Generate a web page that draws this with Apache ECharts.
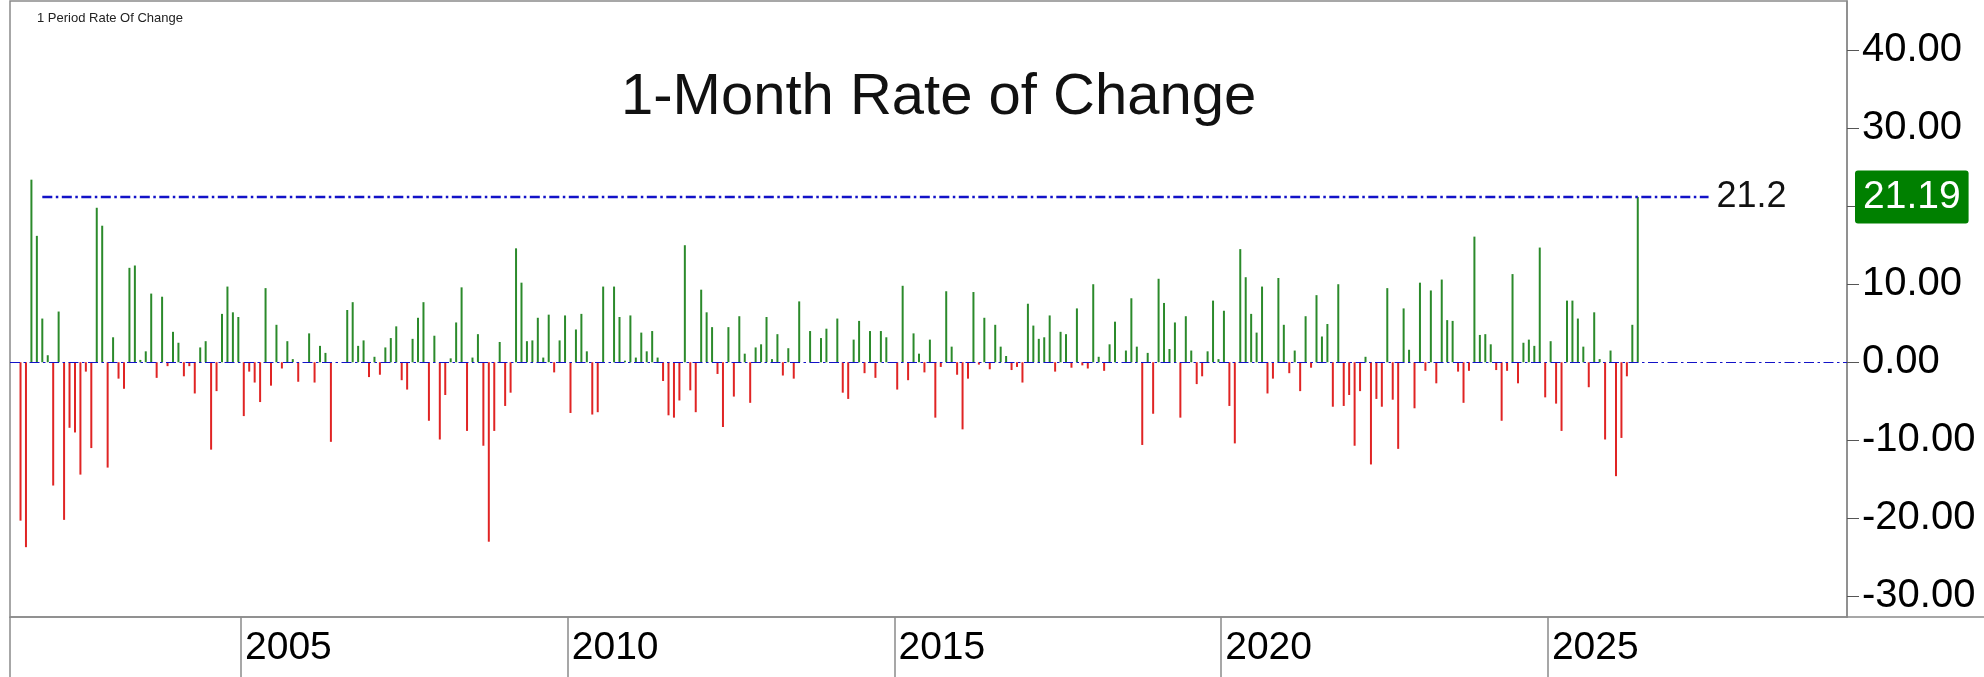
<!DOCTYPE html>
<html>
<head>
<meta charset="utf-8">
<title>1-Month Rate of Change</title>
<script src="https://cdn.jsdelivr.net/npm/echarts@6/dist/echarts.min.js"></script>
<style>
  html, body { margin: 0; padding: 0; background: #fff; }
  #chart { width: 1984px; height: 677px; }
</style>
</head>
<body>
<div id="chart"></div>
<script>
// monthly 1 period rate of change, first bar Aug 2001, last bar May 2026
var firstYear = 2001;
var firstMonth = 8;
var roc = [
  -20.3, -23.7, 23.4, 16.2, 5.6, 0.9, -15.8, 6.5, -20.2, -8.4,
  -9.0, -14.4, -1.2, -11.0, 19.8, 17.5, -13.5, 3.2, -2.1, -3.4,
  12.1, 12.4, 0.3, 1.4, 8.8, -2.0, 8.4, -0.5, 3.9, 2.5,
  -1.8, -0.5, -4.0, 1.9, 2.7, -11.2, -3.7, 6.2, 9.7, 6.4,
  5.8, -6.9, -1.2, -2.6, -5.1, 9.5, -3.0, 4.8, -0.8, 2.7,
  0.4, -2.5, 0, 3.7, -2.6, 2.1, 1.2, -10.2, 0, 0,
  6.7, 7.7, 2.1, 2.8, -1.9, 0.7, -1.6, 1.9, 3.1, 4.6,
  -2.3, -3.5, 3.0, 5.7, 7.7, -7.5, 3.4, -9.9, -4.2, 0.5,
  5.1, 9.6, -8.8, 0.6, 3.6, -10.7, -23.0, -8.8, 2.6, -5.6,
  -3.9, 14.6, 10.2, 2.7, 2.8, 5.7, 0.6, 6.1, -1.3, 2.8,
  6.0, -6.5, 4.2, 6.2, 1.4, -6.7, -6.4, 9.7, 0, 9.7,
  5.8, 0.2, 6.0, 0.6, 3.8, 1.4, 4.0, 0.6, -2.4, -6.8,
  -7.1, -4.9, 15.0, -3.6, -6.4, 9.3, 6.4, 4.5, -1.5, -8.3,
  4.5, -4.4, 5.9, 1.1, -5.2, 1.9, 2.3, 5.8, 0.4, 3.6,
  -1.7, 1.8, -2.1, 7.8, 0, 4.0, 0, 3.1, 4.3, 0,
  5.6, -3.9, -4.7, 2.9, 5.3, -1.4, 4.0, -2.0, 4.0, 3.2,
  0, -3.5, 9.8, -2.3, 3.7, 1.1, -1.3, 2.9, -7.1, -0.6,
  9.1, 2.0, -1.6, -8.6, -2.1, 9.0, -0.3, 5.7, -0.9, 4.8,
  2.0, 0.8, -1.0, -0.6, -2.6, 7.5, 4.7, 3.0, 3.2, 6.0,
  -1.2, 3.9, 3.6, -0.7, 6.9, -0.4, -0.8, 10.0, 0.7, -1.1,
  2.3, 5.2, 0, 1.5, 8.2, 2.0, -10.6, 1.2, -6.6, 10.7,
  7.6, 1.7, 5.1, -7.1, 5.9, 1.5, -2.8, -1.8, 1.4, 7.9,
  0.4, 6.6, -5.6, -10.4, 14.5, 10.9, 6.2, 3.8, 9.7, -4.0,
  -2.1, 10.8, 4.8, -1.4, 1.5, -3.7, 5.9, -0.7, 8.6, 3.3,
  4.9, -5.7, 10.0, -5.6, -4.2, -10.7, -3.7, 0.7, -13.1, -4.7,
  -5.7, 9.5, -4.8, -11.1, 6.9, 1.6, -5.9, 10.2, -1.1, 9.2,
  -2.7, 10.6, 5.4, 5.3, -1.2, -5.2, -1.1, 16.1, 3.5, 3.6,
  2.3, -1.0, -7.5, -1.1, 11.3, -2.7, 2.5, 2.9, 2.1, 14.7,
  -4.5, 2.7, -5.3, -8.8, 7.9, 7.9, 5.6, 2.0, -3.2, 6.4,
  0.4, -9.9, 1.5, -14.6, -9.7, -1.8, 4.8, 21.19
];
var yearTicks = [2005, 2010, 2015, 2020, 2025];
var yTicks = [-30, -20, -10, 0, 10, 20, 30, 40];
var yLabels = [-30, -20, -10, 0, 10, 30, 40]; // 20.00 sits under the last value tag
var refLevel = 21.2;
var refFrom = '2001-12';
var refTo = '2027-06';
var lastValue = roc[roc.length - 1];

var months = [];
(function () {
  var y = firstYear, m = firstMonth;
  for (var i = 0; i < roc.length; i++) {
    months.push(y + '-' + (m < 10 ? '0' : '') + m);
    m++;
    if (m > 12) { m = 1; y++; }
  }
})();

// month 'YYYY-MM' -> decimal year at mid month
function monthPos(s) {
  var p = s.split('-');
  return +p[0] + (+p[1] - 0.5) / 12;
}

var font = '"Liberation Sans", Arial, Helvetica, sans-serif';
var frame = '#8a8a8a';
var blue = '#1212c8';
var dashDot = [10, 3.5, 2.5, 3.5];

var myChart = echarts.init(document.getElementById('chart'));

var option = {
  animation: false,
  backgroundColor: '#fff',
  title: [
    {
      text: '1-Month Rate of Change',
      left: 616,
      top: 64,
      textStyle: { fontFamily: font, fontSize: 58, fontWeight: 'normal', color: '#111' }
    },
    {
      text: '1 Period Rate Of Change',
      left: 32,
      top: 7,
      textStyle: { fontFamily: font, fontSize: 13, fontWeight: 'normal', color: '#222' }
    }
  ],
  grid: {
    left: 10,
    right: 137,
    top: 1,
    bottom: 60,
    show: true,
    borderColor: frame,
    borderWidth: 1.5
  },
  xAxis: {
    type: 'value',
    min: 2001.464,
    max: 2029.577,
    splitLine: { show: false },
    axisLine: { show: true, onZero: false, lineStyle: { color: frame, width: 1.5 } },
    axisTick: {
      show: true,
      customValues: yearTicks,
      length: 60,
      lineStyle: { color: frame, width: 1.5 }
    },
    axisLabel: {
      customValues: yearTicks,
      formatter: function (v) { return String(v); },
      align: 'left',
      verticalAlign: 'middle',
      margin: 31,
      padding: [0, 0, 0, 4],
      fontFamily: font,
      fontSize: 39,
      color: '#000'
    }
  },
  yAxis: {
    type: 'value',
    position: 'right',
    min: -32.65,
    max: 46.3,
    splitLine: { show: false },
    axisLine: { show: true, onZero: false, lineStyle: { color: frame, width: 1.5 } },
    axisTick: {
      show: true,
      customValues: yTicks,
      length: 12,
      lineStyle: { color: '#555', width: 1 }
    },
    axisLabel: {
      customValues: yLabels,
      formatter: function (v) { return v.toFixed(2); },
      align: 'left',
      margin: 15,
      fontFamily: font,
      fontSize: 40,
      color: '#000'
    },
    axisPointer: {
      show: true,
      type: 'line',
      value: lastValue,
      status: 'show',
      snap: false,
      triggerTooltip: false,
      lineStyle: { opacity: 0 },
      label: {
        show: true,
        formatter: function () { return lastValue.toFixed(2); },
        backgroundColor: '#008000',
        color: '#fff',
        fontFamily: font,
        fontSize: 39,
        padding: [7, 8, 7, 8],
        margin: 8
      }
    }
  },
  series: [
    {
      type: 'bar',
      barWidth: 2,
      data: months.map(function (m, i) { return [monthPos(m), roc[i]]; }),
      itemStyle: {
        color: function (p) { return p.value[1] >= 0 ? '#2b8a2b' : '#e02424'; }
      },
      markLine: {
        silent: true,
        symbol: 'none',
        data: [
          [
            {
              coord: [monthPos(refFrom), refLevel],
              lineStyle: { color: blue, width: 2.4, type: dashDot },
              label: {
                show: true,
                position: 'end',
                distance: 8,
                formatter: String(refLevel),
                fontFamily: font,
                fontSize: 36,
                color: '#111'
              }
            },
            { coord: [monthPos(refTo), refLevel] }
          ],
          {
            yAxis: 0,
            lineStyle: { color: blue, width: 1, type: dashDot },
            label: { show: false }
          }
        ]
      }
    }
  ],
  graphic: [
    // frame pieces of the date strip
    { type: 'line', shape: { x1: 10, y1: 617, x2: 10, y2: 677 }, style: { stroke: frame, lineWidth: 1.5 } },
    { type: 'line', shape: { x1: 1846, y1: 617, x2: 1984, y2: 617 }, style: { stroke: frame, lineWidth: 1.5 } }
  ]
};

myChart.setOption(option);
</script>
</body>
</html>
